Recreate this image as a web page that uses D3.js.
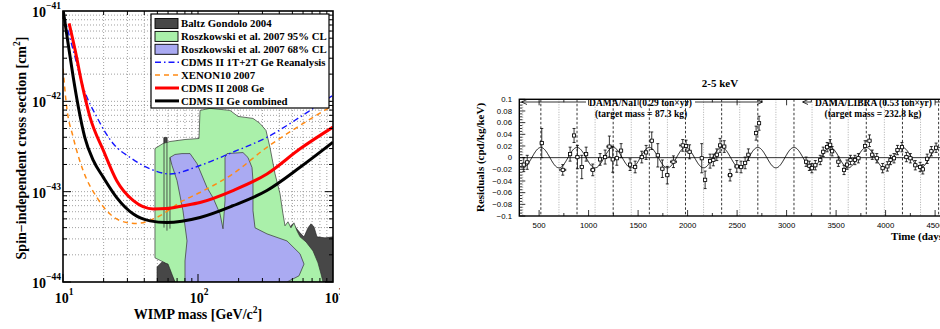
<!DOCTYPE html>
<html><head><meta charset="utf-8">
<script src="https://cdn.jsdelivr.net/npm/d3@7"></script>
<style>body{margin:0;background:#fff}svg{display:block}</style>
</head><body>
<svg id="c" width="940" height="329"></svg>
<script>
// ================= LEFT CHART DATA =================
const massTicks = [10, 100, 1000];
const sigmaTicks = [1e-44, 1e-43, 1e-42, 1e-41];
const sigmaTickExp = ["-44", "-43", "-42", "-41"];
const massTickExp = ["1", "2", "3"];
const legendLabels = ["Baltz Gondolo 2004", "Roszkowski et al. 2007 95% CL", "Roszkowski et al. 2007 68% CL",
  "CDMS II 1T+2T Ge Reanalysis", "XENON10 2007", "CDMS II 2008 Ge", "CDMS II Ge combined"];

// CDMS II Ge combined (black)
const combinedMass  = [10, 10.9, 11.9, 13.0, 14.5, 16.8, 19.9, 25.0, 33.2, 44.1, 58.6, 103.5, 181.6, 324, 570, 1000];
const combinedSigma = [1.05e-41, 4.4e-42, 1.86e-42, 8.6e-43, 4.0e-43, 2.2e-43, 1.44e-43, 8.6e-44, 5.65e-44, 4.75e-44, 4.55e-44, 5.18e-44, 6.99e-44, 1.03e-43, 1.86e-43, 3.53e-43];
// CDMS II 2008 Ge (red)
const cdms2008Mass  = [11.1, 12.3, 13.8, 15.85, 19.9, 25.0, 33.2, 46.7, 58.6, 77.4, 103.5, 181.6, 324, 570, 1000];
const cdms2008Sigma = [7.3e-42, 3.69e-42, 1.57e-42, 6.7e-43, 2.86e-43, 1.32e-43, 7.94e-44, 6.43e-44, 6.5e-44, 6.99e-44, 7.6e-44, 1.03e-43, 1.57e-43, 2.98e-43, 5.18e-43];
// XENON10 2007 (orange dashed)
const xenonMass  = [10, 10.65, 11.9, 14.1, 17.8, 22.3, 29.6, 35.2, 49.4, 77.4, 103.5, 181.6, 324, 570, 1000];
const xenonSigma = [2.31e-42, 8.65e-43, 4.0e-43, 1.71e-43, 8.65e-44, 5.65e-44, 4.56e-44, 4.45e-44, 5.18e-44, 7.94e-44, 9.8e-44, 1.58e-43, 3.1e-43, 5.41e-43, 9.03e-43];
// CDMS II 1T+2T Ge reanalysis (blue dash-dot)
const reanMass  = [10.2, 11.9, 14.1, 17.8, 23.6, 31.3, 44.1, 62.1, 103.5, 181.6, 324, 570, 1000];
const reanSigma = [8.65e-42, 3.69e-42, 1.44e-42, 6.7e-43, 3.39e-43, 2.4e-43, 1.79e-43, 1.57e-43, 1.95e-43, 2.74e-43, 4.0e-43, 6.7e-43, 1.17e-42];

// Baltz Gondolo 2004 regions (dark grey)
const baltzRightMass  = [441, 441, 480, 505, 532, 570, 610, 653, 687, 723, 761, 873, 1000, 1000];
const baltzRightSigma = [1e-44, 3.5e-44, 4.08e-44, 4.41e-44, 3.98e-44, 3.5e-44, 3.16e-44, 3.98e-44, 4.41e-44, 4.08e-44, 3.16e-44, 3.08e-44, 3.16e-44, 1e-44];
const baltzLeftMass  = [49.7, 49.7, 54.1, 60.0, 67.5];
const baltzLeftSigma = [1e-44, 1.47e-44, 1.67e-44, 1.58e-44, 1e-44];
const baltzSpikeMass  = [56.0, 56.0, 58.9, 58.9];
const baltzSpikeSigma = [2.0e-44, 3.98e-43, 3.98e-43, 2.0e-44];
// Roszkowski 95% CL (green)
const rosz95Mass  = [48.0, 55.0, 62.0, 80.1, 101.7, 103.5, 122.7, 172.6, 197.9, 255.5, 288, 319, 341.5, 371.8, 405, 426, 441, 464, 488, 514, 541, 570, 631, 711, 774, 815, 843, 67.5, 57.0, 48.0];
const rosz95Sigma = [3.0e-43, 3.41e-43, 3.59e-43, 3.78e-43, 3.88e-43, 7.94e-43, 8.36e-43, 7.94e-43, 6.81e-43, 6.47e-43, 5.69e-43, 4.76e-43, 3.08e-43, 1.58e-43, 9.5e-44, 5.69e-44, 4.19e-44, 4.64e-44, 3.98e-44, 4.52e-44, 3.69e-44, 3.16e-44, 2.78e-44, 2.21e-44, 1.63e-44, 1.23e-44, 1e-44, 1e-44, 1.63e-44, 1.85e-44];
// Roszkowski 68% CL (blue)
const rosz68Mass  = [62.0, 67.5, 76.1, 87.3, 98.3, 116.6, 129.2, 145.5, 153.2, 158.5, 158.5, 164.0, 215.4, 234.6, 251.2, 255.5, 255.5, 264.4, 324.4, 456, 570, 610, 560, 456, 80.1, 80.1, 82.9, 77.4, 69.9, 64.2];
const rosz68Sigma = [2.39e-43, 2.58e-43, 2.64e-43, 2.64e-43, 2.05e-43, 1.11e-43, 8.58e-44, 5.69e-44, 3.88e-44, 7.94e-44, 2.39e-43, 2.64e-43, 2.71e-43, 2.39e-43, 1.85e-43, 1.33e-43, 6.15e-44, 3.98e-44, 3.41e-44, 2.85e-44, 2.05e-44, 1.58e-44, 1.17e-44, 1e-44, 1e-44, 1.71e-44, 2.85e-44, 6.15e-44, 1.33e-43, 1.95e-43];
// thin contour lines inside the regions
const contourLineMass  = [[56.0, 56.0], [58.9, 58.9], [62.0, 62.0]];
const contourLineSigma = [[3.98e-43, 4.0e-44], [3.98e-43, 3.7e-44], [2.39e-43, 3.9e-44]];

// ================= RIGHT CHART DATA =================
const timeTicks = [500, 1000, 1500, 2000, 2500, 3000, 3500, 4000, 4500];
const residualTicks = [-0.1, -0.08, -0.06, -0.04, -0.02, 0, 0.02, 0.04, 0.06, 0.08, 0.1];
const peakLines = [517.75, 883, 1248.25, 1613.5, 1978.75, 2344, 2709.25, 3074.5, 3439.75, 3805, 4170.25, 4535.5];
const troughLines = [335, 700.4, 1065.6, 1430.9, 1796.1, 2161.4, 2526.6, 2891.9, 3257.1, 3622.4, 3987.6, 4352.9];
const fitAmplitude = 0.0175, fitPeriod = 365.25, fitPhase = 152.5;

const naiTime = [345, 380, 527, 739, 813, 853, 887, 931, 975, 1042, 1116, 1167, 1210, 1244, 1285, 1328, 1419, 1470, 1537, 1581, 1638, 1699, 1745, 1795, 1857, 1951, 1985, 2020, 2143, 2177, 2227, 2260, 2295, 2328, 2370, 2429, 2497, 2540, 2581, 2614, 2692, 2722];
const naiRes  = [-0.012, -0.008, 0.025, -0.021, 0.006, 0.038, 0.001, -0.016, 0.006, -0.021, -0.003, 0.001, 0.019, -0.003, -0.001, 0.012, -0.012, -0.016, 0.001, 0.009, 0.029, 0.004, -0.019, -0.030, -0.007, 0.021, 0.020, 0.010, -0.001, -0.038, -0.006, -0.004, 0.005, 0.021, 0.019, -0.030, -0.015, -0.016, -0.009, 0.005, 0.042, 0.059];
const naiErr  = [0.012, 0.012, 0.025, 0.009, 0.012, 0.012, 0.020, 0.020, 0.012, 0.010, 0.010, 0.012, 0.018, 0.022, 0.012, 0.012, 0.010, 0.010, 0.010, 0.012, 0.015, 0.020, 0.015, 0.015, 0.010, 0.010, 0.010, 0.012, 0.025, 0.015, 0.012, 0.010, 0.010, 0.012, 0.010, 0.010, 0.010, 0.010, 0.010, 0.010, 0.012, 0.012];
const naiXErr = [15, 15, 15, 30, 15, 15, 15, 15, 15, 20, 15, 15, 25, 15, 15, 15, 15, 15, 15, 15, 15, 15, 15, 15, 30, 30, 15, 15, 10, 10, 15, 15, 15, 15, 15, 20, 20, 20, 15, 15, 10, 10];

const libraTime = [3197, 3230, 3255, 3290, 3340, 3370, 3410, 3440, 3460, 3523, 3580, 3610, 3645, 3690, 3725, 3793, 3837, 3865, 3911, 3970, 4018, 4050, 4085, 4120, 4165, 4210, 4250, 4300, 4349, 4376, 4420, 4462, 4510];
const libraRes  = [-0.007, -0.014, -0.018, -0.013, -0.004, 0.010, 0.018, 0.022, 0.011, -0.007, -0.021, -0.012, -0.004, -0.004, -0.001, 0.020, 0.029, 0.005, -0.001, -0.018, -0.015, -0.004, -0.001, 0.013, 0.018, 0.001, -0.001, -0.013, -0.016, -0.020, -0.002, 0.011, 0.017];
const libraErr  = [0.008, 0.008, 0.008, 0.008, 0.008, 0.008, 0.008, 0.009, 0.008, 0.008, 0.008, 0.008, 0.008, 0.008, 0.008, 0.009, 0.010, 0.008, 0.008, 0.008, 0.008, 0.008, 0.008, 0.008, 0.008, 0.008, 0.008, 0.008, 0.008, 0.008, 0.008, 0.008, 0.008];
const libraXErr = 15;

// ================= DRAW =================
const svg = d3.select("#c");
const serif = "'Liberation Serif','Times New Roman',serif";
const sans = "'Liberation Sans',Arial,sans-serif";
const defs = svg.append("defs");
defs.append("clipPath").attr("id", "leftPanel").append("rect").attr("x", 0).attr("y", 0).attr("width", 340).attr("height", 329);
defs.append("clipPath").attr("id", "lplot").append("rect").attr("x", 63).attr("y", 11).attr("width", 270).attr("height", 271);

const xL = d3.scaleLog().domain([10, 1000]).range([63, 333]);
const yL = d3.scaleLog().domain([1e-44, 1e-41]).range([282, 11]);
const left = svg.append("g").attr("clip-path", "url(#leftPanel)");
const plot = left.append("g").attr("clip-path", "url(#lplot)");

// grid
const gx = [], gy = [];
[10, 100].forEach(d => { for (let k = 1; k <= 9; k++) { const v = k * d; if (v > 10 && v < 1000) gx.push(v); } });
[1e-44, 1e-43, 1e-42].forEach(d => { for (let k = 1; k <= 9; k++) { const v = k * d; if (v > 1e-44 * 1.0001 && v < 1e-41 * 0.999) gy.push(v); } });
plot.selectAll(".gx").data(gx).join("line").attr("x1", d => xL(d)).attr("x2", d => xL(d)).attr("y1", 11).attr("y2", 282)
  .attr("stroke", "#888").attr("stroke-width", 0.8).attr("stroke-dasharray", "1,2");
plot.selectAll(".gy").data(gy).join("line").attr("y1", d => yL(d)).attr("y2", d => yL(d)).attr("x1", 63).attr("x2", 333)
  .attr("stroke", "#888").attr("stroke-width", 0.8).attr("stroke-dasharray", "1,2");

const poly = d3.line().x(d => xL(d[0])).y(d => yL(d[1])).curve(d3.curveLinearClosed);
const zip = (a, b) => a.map((v, i) => [v, b[i]]);
const darkFill = "#474747", greenFill = "#aaf0aa", blueFill = "#aaaaf2";
plot.append("path").attr("d", poly(zip(baltzRightMass, baltzRightSigma))).attr("fill", darkFill).attr("stroke", "#222").attr("stroke-width", 0.6);
plot.append("path").attr("d", poly(zip(baltzSpikeMass, baltzSpikeSigma))).attr("fill", darkFill).attr("stroke", "#222").attr("stroke-width", 0.6);
plot.append("path").attr("d", poly(zip(rosz95Mass, rosz95Sigma))).attr("fill", greenFill).attr("stroke", "#333").attr("stroke-width", 0.7);
plot.append("path").attr("d", poly(zip(baltzLeftMass, baltzLeftSigma))).attr("fill", darkFill).attr("stroke", "#222").attr("stroke-width", 0.6);
plot.append("path").attr("d", poly(zip(rosz68Mass, rosz68Sigma))).attr("fill", blueFill).attr("stroke", "#333").attr("stroke-width", 0.7);
contourLineMass.forEach((m, i) => {
  plot.append("path").attr("d", d3.line().x(d => xL(d[0])).y(d => yL(d[1]))(zip(m, contourLineSigma[i])))
    .attr("stroke", "#333").attr("stroke-width", 0.8).attr("fill", "none");
});

const curve = d3.line().x(d => xL(d[0])).y(d => yL(d[1])).curve(d3.curveMonotoneX);
plot.append("path").attr("d", curve(zip(xenonMass, xenonSigma))).attr("fill", "none").attr("stroke", "#ff8a14").attr("stroke-width", 1.5).attr("stroke-dasharray", "5,4");
plot.append("path").attr("d", curve(zip(reanMass, reanSigma))).attr("fill", "none").attr("stroke", "#1515ff").attr("stroke-width", 1.4).attr("stroke-dasharray", "6,3,1.5,3");
plot.append("path").attr("d", curve(zip(cdms2008Mass, cdms2008Sigma))).attr("fill", "none").attr("stroke", "#ff0000").attr("stroke-width", 3);
plot.append("path").attr("d", curve(zip(combinedMass, combinedSigma))).attr("fill", "none").attr("stroke", "#000").attr("stroke-width", 3);

// ticks
const tk = left.append("g").attr("stroke", "#000").attr("stroke-width", 1);
[10, 100].forEach(d => { for (let k = 1; k <= 9; k++) { const v = k * d; if (v < 10 || v > 1000) continue; const len = k === 1 ? 8 : 4; const x = xL(v);
  tk.append("line").attr("x1", x).attr("x2", x).attr("y1", 282).attr("y2", 282 - len);
  tk.append("line").attr("x1", x).attr("x2", x).attr("y1", 11).attr("y2", 11 + len); } });
[1e-44, 1e-43, 1e-42].forEach(d => { for (let k = 1; k <= 9; k++) { const v = k * d; const len = k === 1 ? 8 : 4; const y = yL(v);
  tk.append("line").attr("y1", y).attr("y2", y).attr("x1", 63).attr("x2", 63 + len);
  tk.append("line").attr("y1", y).attr("y2", y).attr("x1", 333).attr("x2", 333 - len); } });
left.append("rect").attr("x", 63).attr("y", 11).attr("width", 270).attr("height", 271).attr("fill", "none").attr("stroke", "#000").attr("stroke-width", 1.6);

// tick labels
sigmaTicks.forEach((v, i) => {
  const t = left.append("text").attr("x", 61).attr("y", yL(v) + 6).attr("text-anchor", "end")
    .attr("font-family", serif).attr("font-weight", "bold").attr("font-size", 14).text("10");
  t.append("tspan").attr("dy", -8).attr("font-size", 9.5).text(sigmaTickExp[i].replace("-", "\u2212"));
});
massTicks.forEach((v, i) => {
  const t = left.append("text").attr("x", xL(v) + 1).attr("y", 303).attr("text-anchor", "middle")
    .attr("font-family", serif).attr("font-weight", "bold").attr("font-size", 14).text("10");
  t.append("tspan").attr("dy", -8).attr("font-size", 9.5).text(massTickExp[i]);
});
// axis titles
const xt = left.append("text").attr("x", 198).attr("y", 319).attr("text-anchor", "middle")
  .attr("font-family", serif).attr("font-weight", "bold").attr("font-size", 14).text("WIMP mass [GeV/c");
xt.append("tspan").attr("dy", -6).attr("font-size", 9.5).text("2");
xt.append("tspan").attr("dy", 6).text("]");
const yt = left.append("text").attr("transform", "translate(26,148) rotate(-90)").attr("text-anchor", "middle")
  .attr("font-family", serif).attr("font-weight", "bold").attr("font-size", 14).text("Spin\u2212independent cross section [cm");
yt.append("tspan").attr("dy", -6).attr("font-size", 9.5).text("2");
yt.append("tspan").attr("dy", 6).text("]");

// legend
const lg = left.append("g");
lg.append("rect").attr("x", 151).attr("y", 14).attr("width", 178).attr("height", 94).attr("fill", "#fff").attr("stroke", "#000").attr("stroke-width", 1.2);
const legY = i => 23.5 + i * 12.9;
const swatch = [
  {type: "rect", fill: darkFill}, {type: "rect", fill: greenFill}, {type: "rect", fill: blueFill},
  {type: "line", stroke: "#1515ff", w: 1.4, dash: "6,3,1.5,3"}, {type: "line", stroke: "#ff8a14", w: 1.5, dash: "5,4"},
  {type: "line", stroke: "#ff0000", w: 3}, {type: "line", stroke: "#000", w: 3}];
legendLabels.forEach((lab, i) => {
  const y = legY(i), s = swatch[i];
  if (s.type === "rect") lg.append("rect").attr("x", 155).attr("y", y - 5).attr("width", 23).attr("height", 10).attr("fill", s.fill).attr("stroke", "#000").attr("stroke-width", 0.9);
  else lg.append("line").attr("x1", 155).attr("x2", 179).attr("y1", y).attr("y2", y).attr("stroke", s.stroke).attr("stroke-width", s.w).attr("stroke-dasharray", s.dash || null);
  lg.append("text").attr("x", 181).attr("y", y + 3.8).attr("font-family", serif).attr("font-weight", "bold").attr("font-size", 10.8).text(lab);
});

// ================= RIGHT CHART =================
const xR = d3.scaleLinear().domain([300, 4700]).range([519.3, 954.9]);
const yR = d3.scaleLinear().domain([-0.1, 0.1]).range([216, 99.3]);
const right = svg.append("g");
defs.append("clipPath").attr("id", "rplot").append("rect").attr("x", 519.3).attr("y", 99.3).attr("width", 436).attr("height", 116.7);
const rp = right.append("g").attr("clip-path", "url(#rplot)");
rp.selectAll(".pk").data(peakLines).join("line").attr("x1", d => xR(d)).attr("x2", d => xR(d)).attr("y1", 99.3).attr("y2", 216)
  .attr("stroke", "#000").attr("stroke-width", 0.8).attr("stroke-dasharray", "2.5,2");
rp.selectAll(".tr").data(troughLines).join("line").attr("x1", d => xR(d)).attr("x2", d => xR(d)).attr("y1", 99.3).attr("y2", 216)
  .attr("stroke", "#999").attr("stroke-width", 0.8).attr("stroke-dasharray", "1,1.5");
rp.append("line").attr("x1", 519.3).attr("x2", 955).attr("y1", yR(0)).attr("y2", yR(0)).attr("stroke", "#000").attr("stroke-width", 0.8);
// cosine fit curve from its parameters
const fitT = d3.range(300, 4701, 5);
rp.append("path").attr("d", d3.line().x(t => xR(t)).y(t => yR(fitAmplitude * Math.cos(2 * Math.PI * (t - fitPhase) / fitPeriod)))(fitT))
  .attr("fill", "none").attr("stroke", "#000").attr("stroke-width", 0.9);

function drawPoints(times, res, errs, xerrs) {
  times.forEach((t, i) => {
    const x = xR(t), y = yR(res[i]), e = errs[i], xe = Array.isArray(xerrs) ? xerrs[i] : xerrs;
    const g = rp.append("g").attr("stroke", "#000").attr("stroke-width", 0.8);
    g.append("line").attr("x1", x).attr("x2", x).attr("y1", yR(res[i] + e)).attr("y2", yR(res[i] - e));
    g.append("line").attr("x1", x - 1.5).attr("x2", x + 1.5).attr("y1", yR(res[i] + e)).attr("y2", yR(res[i] + e));
    g.append("line").attr("x1", x - 1.5).attr("x2", x + 1.5).attr("y1", yR(res[i] - e)).attr("y2", yR(res[i] - e));
    g.append("line").attr("x1", xR(t - xe)).attr("x2", xR(t + xe)).attr("y1", y).attr("y2", y);
    g.append("line").attr("x1", xR(t - xe)).attr("x2", xR(t - xe)).attr("y1", y - 1.2).attr("y2", y + 1.2);
    g.append("line").attr("x1", xR(t + xe)).attr("x2", xR(t + xe)).attr("y1", y - 1.2).attr("y2", y + 1.2);
    g.append("rect").attr("x", x - 1.6).attr("y", y - 1.6).attr("width", 3.2).attr("height", 3.2).attr("fill", "#fff");
  });
}
drawPoints(naiTime, naiRes, naiErr, naiXErr);
drawPoints(libraTime, libraRes, libraErr, libraXErr);

// annotations
const ann = rp.append("g").attr("font-family", serif).attr("font-weight", "bold").attr("font-size", 9.5).attr("text-anchor", "middle");
const arrowY = 102;
ann.append("line").attr("x1", 522).attr("x2", 586).attr("y1", arrowY).attr("y2", arrowY).attr("stroke", "#000").attr("stroke-width", 0.8);
ann.append("path").attr("d", `M${527},${arrowY - 2.5}L${521.5},${arrowY}L${527},${arrowY + 2.5}`).attr("fill", "none").attr("stroke", "#000").attr("stroke-width", 0.8);
ann.append("line").attr("x1", 695).attr("x2", 762).attr("y1", arrowY).attr("y2", arrowY).attr("stroke", "#000").attr("stroke-width", 0.8);
ann.append("path").attr("d", `M${757},${arrowY - 2.5}L${762.5},${arrowY}L${757},${arrowY + 2.5}`).attr("fill", "none").attr("stroke", "#000").attr("stroke-width", 0.8);
ann.append("text").attr("x", 640.5).attr("y", 105.5).text("DAMA/NaI (0.29 ton\u00d7yr)");
ann.append("text").attr("x", 641).attr("y", 116.5).text("(target mass = 87.3 kg)");
ann.append("line").attr("x1", 803).attr("x2", 811).attr("y1", arrowY).attr("y2", arrowY).attr("stroke", "#000").attr("stroke-width", 0.8);
ann.append("path").attr("d", `M${808},${arrowY - 2.5}L${802.5},${arrowY}L${808},${arrowY + 2.5}`).attr("fill", "none").attr("stroke", "#000").attr("stroke-width", 0.8);
ann.append("line").attr("x1", 935).attr("x2", 955).attr("y1", arrowY).attr("y2", arrowY).attr("stroke", "#000").attr("stroke-width", 0.8);
ann.append("text").attr("x", 873.5).attr("y", 105.5).text("DAMA/LIBRA (0.53 ton\u00d7yr)");
ann.append("text").attr("x", 873).attr("y", 117).text("(target mass = 232.8 kg)");

// right axes ticks
const rt = right.append("g").attr("stroke", "#000").attr("stroke-width", 0.8);
d3.range(250, 4701, 250).forEach(t => { const len = t % 500 === 0 ? 6 : 3; if (t < 300) return;
  rt.append("line").attr("x1", xR(t)).attr("x2", xR(t)).attr("y1", 216).attr("y2", 216 - len);
  rt.append("line").attr("x1", xR(t)).attr("x2", xR(t)).attr("y1", 99.3).attr("y2", 99.3 + len); });
d3.range(-100, 101, 5).forEach(v => { const len = v % 20 === 0 ? 6 : 3;
  rt.append("line").attr("x1", 519.3).attr("x2", 519.3 + len).attr("y1", yR(v / 1000)).attr("y2", yR(v / 1000)); });
right.append("rect").attr("x", 519.3).attr("y", 99.3).attr("width", 436).attr("height", 116.7).attr("fill", "none").attr("stroke", "#000").attr("stroke-width", 1.4);

right.selectAll(".xl").data(timeTicks).join("text").attr("x", d => xR(d)).attr("y", 227.5).attr("text-anchor", "middle")
  .attr("font-family", sans).attr("font-size", 7.8).text(d => d);
right.selectAll(".yl").data(residualTicks).join("text").attr("x", 512).attr("y", d => yR(d) + 2.7).attr("text-anchor", "end")
  .attr("font-family", sans).attr("font-size", 7.8).text(d => (d < 0 ? "\u2212" : "") + String(Math.abs(+d.toFixed(2))));
right.append("text").attr("x", 891).attr("y", 240).attr("font-family", serif).attr("font-weight", "bold").attr("font-size", 11).text("Time (days)");
right.append("text").attr("transform", "translate(484,157.5) rotate(-90)").attr("text-anchor", "middle")
  .attr("font-family", serif).attr("font-weight", "bold").attr("font-size", 11).text("Residuals (cpd/kg/keV)");
right.append("text").attr("x", 720).attr("y", 87).attr("text-anchor", "middle")
  .attr("font-family", serif).attr("font-weight", "bold").attr("font-size", 11).text("2-5 keV");
</script>
</body></html>
